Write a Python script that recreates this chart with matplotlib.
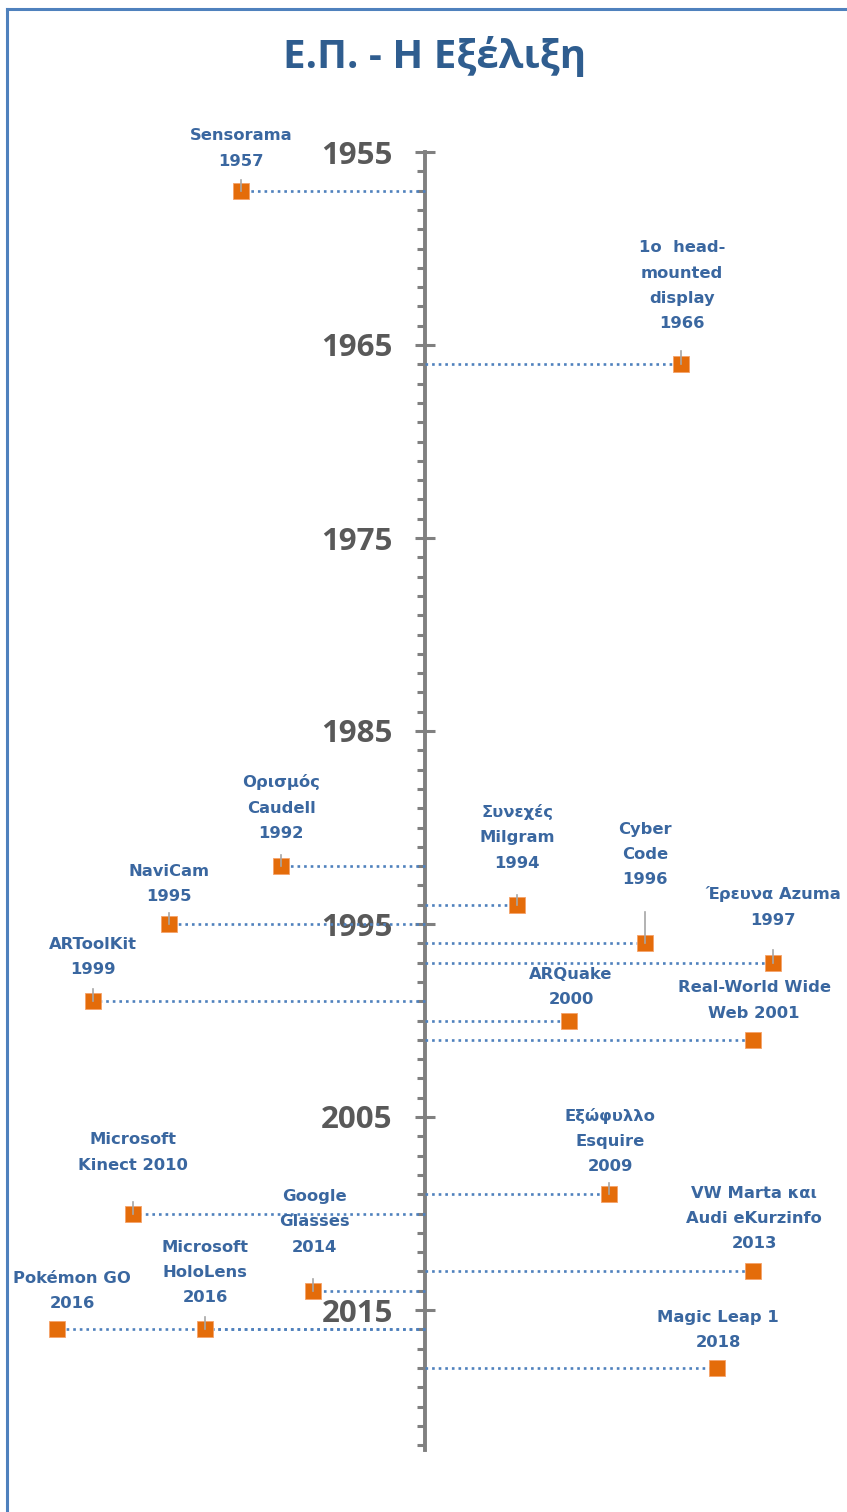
import matplotlib
matplotlib.use("Agg")
from matplotlib import pyplot as plt
from matplotlib.lines import Line2D
from matplotlib.ticker import FixedLocator

############################################
# Data
############################################
labels = ["Sensorama\n1957", "1ο  head-\nmounted\ndisplay\n1966", "Ορισμός\nCaudell\n1992",
          "Συνεχές\nMilgram\n1994", "NaviCam\n1995", "Cyber\nCode\n1996", "Έρευνα Azuma\n1997",
          "ARToolKit\n1999", "ARQuake\n2000", "Real-World Wide\nWeb 2001", "Εξώφυλλο\nEsquire\n2009",
          "Microsoft\nKinect 2010", "VW Marta και\nAudi eKurzinfo\n2013", "Google\nGlasses\n2014",
          "Pokémon GO\n2016", "Microsoft\nHoloLens\n2016", "Magic Leap 1\n2018"]
years = [1957, 1966, 1992, 1994, 1995, 1996, 1997, 1999, 2000, 2001, 2009, 2010, 2013, 2014,
         2016, 2016, 2018]
xpos = [-4.6, 6.4, -3.6, 2.3, -6.4, 5.5, 8.7, -8.3, 3.6, 8.2, 4.6, -7.3, 8.2, -2.8, -9.2, -5.5, 7.3]

year_ticks = [1955, 1965, 1975, 1985, 1995, 2005, 2015]
year_end = 2022.25

# label layout (pixels): gap from marker to centre of last text line, x shift, leader length
label_gap = [29, 40, 32, 41, 27, 63, 42, 31, 20, 26, 27, 48, 27, 43, 25, 31, 25]
label_dx = [0, 1, 0, 0, 0, 0, 0, 0, 2, 1, 1, 0, 1, 1, 15, 0, 1]
leader = [11, 13, 11, 10, 11, 31, 13, 12, 0, 0, 11, 12, 0, 12, 0, 12, 0]

############################################
# Style
############################################
W, H, DPI = 847, 1512, 100
PX = 72.0 / DPI          # points per pixel
AX_X = 425               # pixel x of the timeline
Y0_PX = 152              # pixel y of 1955
PX_YEAR = 19.3
PX_UNIT = 40.0

blue = '#4F81BD'
label_col = '#3A67A0'
title_col = '#2F5D8F'
orange = '#E46C0A'
grey = '#808080'

fig = plt.figure(figsize=(W / DPI, H / DPI), dpi=DPI)
ax = fig.add_axes([0, 0, 1, 1])
ax.set_xlim(-AX_X / PX_UNIT, (W - AX_X) / PX_UNIT)
ax.set_ylim(1955 + (H - Y0_PX) / PX_YEAR, 1955 - Y0_PX / PX_YEAR)
ax.patch.set_alpha(0)

for s in ['top', 'right', 'bottom']:
    ax.spines[s].set_visible(False)
ax.spines['left'].set_position(('data', 0))
ax.spines['left'].set_bounds(year_ticks[0], year_end)
ax.spines['left'].set_color(grey)
ax.spines['left'].set_linewidth(2.8)
ax.spines['left'].set_zorder(1)
ax.set_xticks([])
ax.set_yticks(year_ticks)
minor = [y for y in range(year_ticks[0], int(year_end) + 1) if y not in year_ticks]
ax.yaxis.set_minor_locator(FixedLocator(minor))
ax.tick_params(axis='y', which='major', direction='inout', length=20 * PX, width=2.2,
               color=grey, pad=16, labelsize=22.5, labelcolor='#595959')
ax.tick_params(axis='y', which='minor', direction='out', length=8 * PX, width=2.2, color=grey)
for t in ax.get_yticklabels():
    t.set_fontfamily('Open Sans')
    t.set_fontweight('bold')

# drop lines, markers, leaders, labels
for lab, yr, x, gap, dx, ld in zip(labels, years, xpos, label_gap, label_dx, leader):
    ax.plot([0, x], [yr, yr], color=blue, lw=1.9, ls=(0, (1, 1.5)), dash_capstyle='butt', zorder=2)
    ax.plot(x, yr, marker='s', ms=12.2, color=orange, mec='#F5A36A', mew=0.6, zorder=4)
    if ld:
        ax.plot([x, x], [yr, yr - ld / PX_YEAR], color='#A6A6A6', lw=1.2, zorder=5)
    ax.annotate(lab, xy=(x, yr), xytext=(dx * PX, (gap - 7) * PX), textcoords='offset points',
                ha='center', va='bottom', multialignment='center', fontsize=11.8,
                fontweight='bold', color=label_col, linespacing=1.86, zorder=6)

# title
fig.text(435 / W, 1 - 68 / H, 'Ε.Π. - Η Εξέλιξη', ha='center', va='baseline',
         fontsize=29, fontfamily='Open Sans', fontweight='bold', color=title_col)

# frame
fig.add_artist(Line2D([7 / W, 7 / W], [0, 1 - 9 / H], color=blue, lw=2.2))
fig.add_artist(Line2D([7 / W, 1], [1 - 9 / H, 1 - 9 / H], color=blue, lw=2.2))

fig.savefig('out.png', dpi=DPI)
